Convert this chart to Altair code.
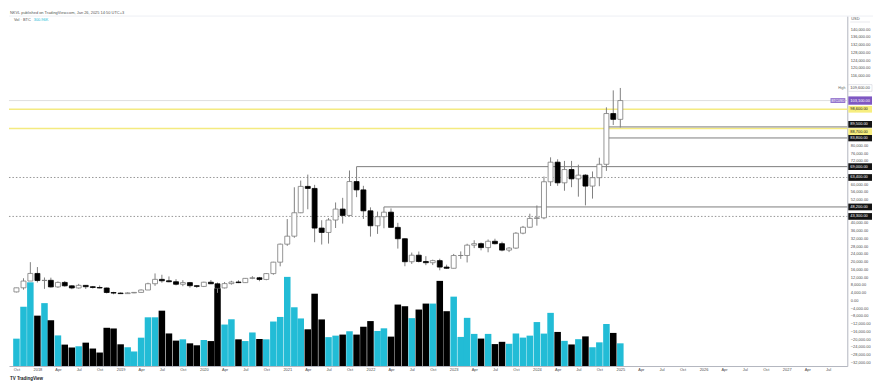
import altair as alt
import pandas as pd

# ---------------- data ----------------
months = pd.date_range("2017-10-01", "2025-01-01", freq="MS")

opens = [4340, 6460, 9950, 13880, 10220, 10330, 6930, 9240, 7490, 6390, 7730, 7030, 6630, 6370, 4040,
         3740, 3460, 3850, 4100, 5330, 8570, 10820, 10090, 9600, 8300, 9150, 7560,
         7190, 9350, 8540, 6420, 8630, 9450, 9140, 11340, 11650, 10780, 13800, 19700,
         28990, 33110, 45200, 58800, 57750, 37300, 35040, 41460, 47100, 43820, 61300, 57000,
         46200, 38480, 43160, 45500, 37650, 31800, 19930, 23300, 20050, 19420, 20490, 17170,
         16550, 23130, 23150, 28480, 29250, 27220, 30480, 29230, 25930, 26970, 34660, 37720,
         42280, 42580, 61200, 71300, 60650, 67500, 62700, 64600, 58960, 63300, 70200, 96400,
         93400]
highs = [6470, 11400, 19700, 17180, 11790, 11700, 9750, 9990, 7770, 8500, 7760, 7410, 7680, 6600, 4400,
         4100, 4200, 4130, 5600, 9100, 13880, 13200, 12330, 10950, 10400, 9500, 7750,
         9580, 10500, 9190, 9470, 10080, 10390, 11450, 12470, 12090, 14100, 19880, 29300,
         41950, 58350, 61800, 64900, 59600, 41350, 42450, 50500, 52900, 67000, 69000, 59100,
         47990, 45800, 48200, 47450, 40000, 31980, 24650, 25200, 22800, 21000, 21480, 18400,
         23950, 25250, 29200, 31000, 29850, 31400, 31800, 30250, 27480, 35200, 38400, 44700,
         48970, 63900, 73800, 72800, 71950, 71950, 70000, 65100, 66500, 73600, 99600, 108350,
         109600]
lows = [4100, 5500, 10000, 9200, 5920, 6600, 6430, 7050, 5750, 6070, 5880, 6100, 6200, 3560, 3120,
        3350, 3390, 3700, 4070, 5330, 7470, 9080, 9330, 7730, 7300, 6540, 6430,
        6860, 8460, 3850, 6150, 8110, 8900, 9000, 10930, 9860, 10370, 13220, 17560,
        28130, 32300, 45000, 47000, 30000, 28800, 29300, 37330, 39600, 43300, 53250, 42000,
        32900, 34300, 37200, 37600, 26700, 17600, 18800, 19550, 18150, 18200, 15500, 16260,
        16500, 21400, 19560, 26950, 25800, 24800, 28860, 25300, 24900, 26560, 34100, 37600,
        38550, 41880, 59000, 59100, 56550, 58400, 53500, 49000, 52500, 58900, 66800, 90500,
        89200]
closes = [6460, 9950, 13880, 10220, 10330, 6930, 9240, 7490, 6390, 7730, 7030, 6630, 6370, 4040, 3740,
          3460, 3850, 4100, 5330, 8570, 10820, 10090, 9600, 8300, 9150, 7560, 7190,
          9350, 8540, 6420, 8630, 9450, 9140, 11340, 11650, 10780, 13800, 19700, 28990,
          33110, 45200, 58800, 57750, 37300, 35040, 41460, 47100, 43820, 61300, 57000, 46200,
          38480, 43160, 45500, 37650, 31800, 19930, 23300, 20050, 19420, 20490, 17170, 16550,
          23130, 23150, 28480, 29250, 27220, 30480, 29230, 25930, 26970, 34660, 37720, 42280,
          42580, 61200, 71300, 60650, 67500, 62700, 64600, 58960, 63300, 70200, 96400, 93400,
          103100]
# monthly volume, thousands of BTC
volume_k = [363, 786, 1110, 668, 834, 607, 406, 284, 245, 262, 310, 232, 179, 507, 498,
            288, 249, 193, 376, 646, 646, 734, 432, 337, 354, 301, 275,
            345, 331, 1031, 550, 620, 354, 331, 445, 358, 354, 590, 651,
            1182, 779, 631, 487, 959, 618, 383, 403, 417, 461, 417, 521,
            596, 465, 500, 390, 815, 793, 635, 749, 828, 828, 1129, 727,
            920, 386, 639, 426, 364, 426, 291, 321, 295, 430, 377, 403,
            583, 430, 705, 452, 334, 286, 356, 393, 249, 314, 557, 439,
            301]

solid_level_start = ["2021-11-01", "2022-03-01", "2024-11-01", "2024-11-01"]
solid_level_price = [69000, 48200, 89500, 83800]
dotted_level_price = [63400, 43300]
yellow_level_price = [98600, 88700]
current_price = [103100]
high_price = [109600]

x_tick_dates = pd.date_range("2017-10-01", "2027-07-01", freq="3MS")
all_tag_prices = (solid_level_price + dotted_level_price + yellow_level_price
                  + current_price + high_price)
# price-scale labels, hidden where a price tag covers them (as TradingView does)
y_tick_values = [v for v in range(-32000, 144000, 4000)
                 if all(abs(v - p) > 2600 for p in all_tag_prices)]

header = "NKVL published on TradingView.com, Jan 26, 2025 14:50 UTC+3"

# ---------------- chart ----------------
PW, PH = 848, 354
CYAN = "#22bcd6"
FONT = "Liberation Sans"

df = pd.DataFrame({
    "date": months.strftime("%Y-%m-%d"),
    "open": opens, "high": highs, "low": lows, "close": closes, "vol": volume_k,
})
df["dir"] = ["up" if c >= o else "down" for o, c in zip(opens, closes)]


def ms(t):
    return int(pd.Timestamp(t).value // 10**6)


xscale = alt.Scale(type="utc", domain=[ms("2017-09-20"), ms("2027-09-02")])
xaxis = alt.Axis(
    values=[ms(t) for t in x_tick_dates],
    labelExpr="utcmonth(datum.value) == 0 ? utcFormat(datum.value, '%Y') : utcFormat(datum.value, '%b')",
    labelFontSize=4, labelColor="#4a4a4a", labelFont=FONT, domainColor="#b2b5be",
    ticks=False, grid=False, title=None, labelPadding=2, labelOverlap=False,
)
yscale = alt.Scale(domain=[-33900, 146700], nice=False, zero=False)
yaxis = alt.Axis(
    orient="right", values=y_tick_values, format=",.2f",
    labelFontSize=4, labelColor="#4a4a4a", labelFont=FONT, domainColor="#b2b5be",
    ticks=False, grid=False, title=None, labelPadding=3, labelOverlap=False,
)
X = alt.X("date:T", scale=xscale, axis=xaxis)

base = alt.Chart(df)

vol = base.mark_bar(size=6.6).encode(
    x=X,
    y=alt.Y("vol:Q", scale=alt.Scale(domain=[0, 4640]), axis=None),
    color=alt.Color("dir:N", scale=alt.Scale(domain=["up", "down"], range=[CYAN, "#000000"]), legend=None),
)

wick = base.mark_rule(color="#808080", strokeWidth=1).encode(
    x=X, y=alt.Y("low:Q", scale=yscale, axis=yaxis), y2="high:Q"
)
body = base.mark_bar(size=5, strokeWidth=0.8).encode(
    x=X,
    y=alt.Y("open:Q", scale=yscale, axis=yaxis),
    y2="close:Q",
    fill=alt.Fill("dir:N", scale=alt.Scale(domain=["up", "down"], range=["#ffffff", "#000000"]), legend=None),
    stroke=alt.Stroke("dir:N", scale=alt.Scale(domain=["up", "down"], range=["#7a7a7a", "#000000"]), legend=None),
)

solid_df = pd.DataFrame({"start": solid_level_start, "price": solid_level_price})
dotted_df = pd.DataFrame({"price": dotted_level_price})
yellow_df = pd.DataFrame({"price": yellow_level_price})
cur_df = pd.DataFrame({"price": current_price})
high_df = pd.DataFrame({"price": high_price})
Yp = alt.Y("price:Q", scale=yscale, axis=yaxis)

yellow_lines = alt.Chart(yellow_df).mark_rule(color="#f4ea80", strokeWidth=1.6).encode(
    x=alt.value(0), x2=alt.value(PW), y=Yp)
cur_line = alt.Chart(cur_df).mark_rule(color="#d6d6d6", strokeWidth=0.8).encode(
    x=alt.value(0), x2=alt.value(PW), y=Yp)
dotted_lines = alt.Chart(dotted_df).mark_rule(color="#8a8a8a", strokeWidth=0.9, strokeDash=[1.5, 2]).encode(
    x=alt.value(0), x2=alt.value(PW), y=Yp)
solid_lines = alt.Chart(solid_df).mark_rule(color="#6e6e6e", strokeWidth=0.9).encode(
    x=alt.X("start:T", scale=xscale, axis=xaxis), x2=alt.value(PW), y=Yp)


def tags(data, bg, fg, h=3.4, shift=0.0):
    r = alt.Chart(data).mark_rect(color=bg, yOffset=shift - h, y2Offset=shift + h).encode(
        x=alt.value(PW + 1), x2=alt.value(PW + 25), y=Yp, y2="price:Q")
    t = alt.Chart(data).mark_text(align="left", baseline="middle", fontSize=4, font=FONT, color=fg, dy=shift).encode(
        x=alt.value(PW + 3), y=Yp, text=alt.Text("price:Q", format=",.2f"))
    return r + t


solid_d = solid_df[["price"]]
tag_layers = [
    tags(solid_d[solid_d.price != 89500], "#131313", "#ffffff"),
    tags(solid_d[solid_d.price == 89500], "#131313", "#ffffff", shift=-2.6),
    tags(dotted_df, "#131313", "#ffffff"),
    tags(yellow_df[yellow_df.price != 88700], "#f7ee7f", "#131313"),
    tags(yellow_df[yellow_df.price == 88700], "#f7ee7f", "#131313", shift=3.2),
    tags(cur_df, "#7e57c2", "#ffffff", h=4.2),
]
cur_sym = alt.Chart(cur_df).mark_rect(color="#9575cd", yOffset=-2.5, y2Offset=2.5).encode(
    x=alt.value(PW - 17), x2=alt.value(PW - 2), y=Yp, y2="price:Q")
cur_sym_t = alt.Chart(cur_df).mark_text(fontSize=3.2, font=FONT, color="#ffffff", text="BTCUSD").encode(
    x=alt.value(PW - 9.5), y=Yp)
high_tag = alt.Chart(high_df).mark_rect(color="#ffffff", stroke="#c9ccd6", strokeWidth=0.5, yOffset=-3.4, y2Offset=3.4).encode(
    x=alt.value(PW + 1), x2=alt.value(PW + 25), y=Yp, y2="price:Q")
high_txt = alt.Chart(high_df).mark_text(align="left", baseline="middle", fontSize=4, font=FONT, color="#4a4a4a").encode(
    x=alt.value(PW + 3), y=Yp, text=alt.Text("price:Q", format=",.2f"))
high_lbl = alt.Chart(high_df).mark_text(align="right", baseline="middle", fontSize=3.5, font=FONT, color="#6a6a6a", text="High").encode(
    x=alt.value(PW - 2), y=Yp)

one = pd.DataFrame({"k": [0]})
top_border = alt.Chart(one).mark_rule(color="#e0e3eb", strokeWidth=0.6).encode(
    x=alt.value(0), x2=alt.value(PW + 26), y=alt.value(0))
hdr = alt.Chart(one).mark_text(align="left", baseline="middle", fontSize=4, font=FONT, color="#555555", text=header).encode(
    x=alt.value(1), y=alt.value(-3.5))
vol_lbl = alt.Chart(one).mark_text(align="left", baseline="middle", fontSize=4, font=FONT, color="#555555", text="Vol · BTC").encode(
    x=alt.value(5), y=alt.value(4))
vol_val = alt.Chart(one).mark_text(align="left", baseline="middle", fontSize=4, font=FONT, color=CYAN, text="300.96K").encode(
    x=alt.value(25), y=alt.value(4))
usd = alt.Chart(one).mark_text(align="left", baseline="middle", fontSize=4, font=FONT, color="#555555", text="USD").encode(
    x=alt.value(PW + 4), y=alt.value(2.5))
usd_rule = alt.Chart(one).mark_rule(color="#d0d3db", strokeWidth=0.5).encode(
    x=alt.value(PW + 3), x2=alt.value(PW + 23), y=alt.value(6))
tv = alt.Chart(one).mark_text(align="left", baseline="middle", fontSize=4.5, font=FONT, fontWeight="bold", color="#131722", text="TV TradingView").encode(
    x=alt.value(1), y=alt.value(PH + 13))

price = alt.layer(
    cur_line, yellow_lines, dotted_lines, solid_lines, wick, body,
    *tag_layers, high_tag, high_txt, high_lbl, cur_sym, cur_sym_t,
)

chart = alt.layer(
    top_border, vol, price, hdr, vol_lbl, vol_val, usd, usd_rule, tv
).resolve_scale(y="independent").properties(
    width=PW, height=PH, padding={"left": 0, "top": 0, "right": 0, "bottom": 0},
    background="#ffffff",
).configure_view(strokeWidth=0)

chart.save("out.html", embed_options={"renderer": "svg", "actions": False})
